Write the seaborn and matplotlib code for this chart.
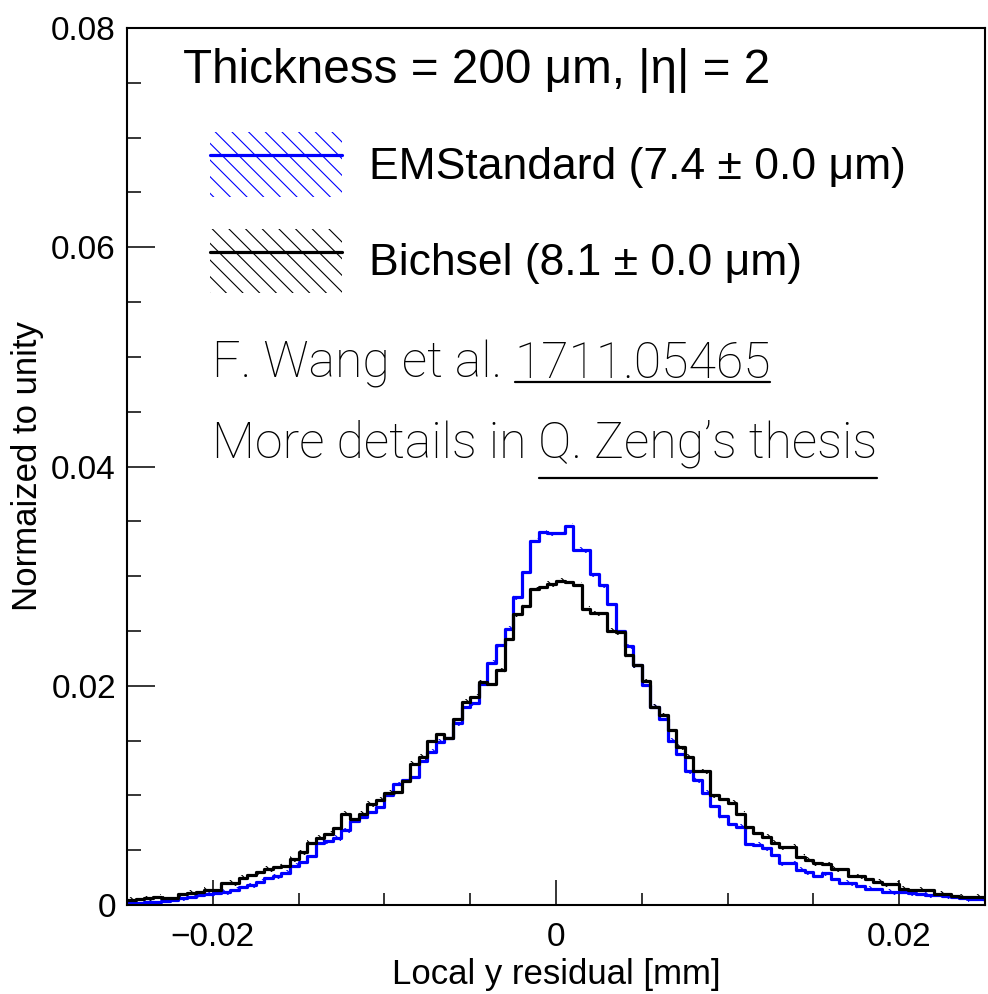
import numpy as np
import pandas as pd
import matplotlib
matplotlib.use("Agg")
import matplotlib.pyplot as plt
import matplotlib.legend_handler
import seaborn as sns
from matplotlib.patches import Patch
from matplotlib.lines import Line2D

# ---------------- data ----------------
bin_lo, bin_hi, n_bins = -0.025, 0.025, 100

em_standard = [
    0.00015, 0.0002, 0.0003, 0.0003, 0.0004, 0.0005, 0.0006, 0.0007, 0.0009, 0.0010,
    0.0011, 0.0012, 0.0014, 0.0016, 0.0018, 0.0021, 0.0025, 0.0026, 0.0029, 0.0036,
    0.0039, 0.0045, 0.0057, 0.0058, 0.0061, 0.0068, 0.0077, 0.0080, 0.0085, 0.0089,
    0.0100, 0.0110, 0.0114, 0.0117, 0.0131, 0.0140, 0.0149, 0.0152, 0.0166, 0.0181,
    0.0184, 0.0202, 0.0221, 0.0237, 0.0252, 0.0281, 0.0304, 0.0332, 0.0340, 0.0339,
    0.0339, 0.0346, 0.0324, 0.0324, 0.0302, 0.0292, 0.0275, 0.0250, 0.0236, 0.0219,
    0.0201, 0.0181, 0.0170, 0.0150, 0.0138, 0.0122, 0.0114, 0.0102, 0.0090, 0.0081,
    0.0074, 0.0071, 0.0056, 0.0055, 0.0052, 0.0046, 0.0038, 0.0038, 0.0032, 0.0030,
    0.0026, 0.0029, 0.0024, 0.0020, 0.0020, 0.0017, 0.0015, 0.0015, 0.0012, 0.0012,
    0.0012, 0.0011, 0.0010, 0.0009, 0.0009, 0.0008, 0.0007, 0.0006, 0.00055, 0.00055,
]

bichsel = [
    0.0005, 0.00058, 0.0006, 0.00076, 0.0006, 0.0006, 0.0010, 0.0011, 0.0012, 0.0014,
    0.0014, 0.0020, 0.0020, 0.0025, 0.0027, 0.0030, 0.0033, 0.0035, 0.0036, 0.0042,
    0.0048, 0.0057, 0.0061, 0.0065, 0.0070, 0.0083, 0.0078, 0.0083, 0.0092, 0.0096,
    0.0102, 0.0103, 0.0113, 0.0129, 0.0135, 0.0150, 0.0156, 0.0152, 0.0170, 0.0185,
    0.0190, 0.0203, 0.0202, 0.0214, 0.0243, 0.0265, 0.0273, 0.0288, 0.0290, 0.0293,
    0.0296, 0.0295, 0.0292, 0.0270, 0.0266, 0.0266, 0.0250, 0.0249, 0.0228, 0.0219,
    0.0204, 0.0181, 0.0173, 0.0160, 0.0144, 0.0135, 0.0122, 0.0122, 0.0100, 0.0097,
    0.0093, 0.0083, 0.0071, 0.0066, 0.0062, 0.0057, 0.0053, 0.0053, 0.0044, 0.0041,
    0.0038, 0.0037, 0.0033, 0.0033, 0.0026, 0.0026, 0.0024, 0.0021, 0.0019, 0.0019,
    0.0015, 0.0014, 0.0014, 0.0014, 0.0010, 0.0010, 0.00085, 0.00076, 0.00076, 0.00076,
]

series_names = ["EMStandard (7.4 \u00b1 0.0 \u03bcm)", "Bichsel (8.1 \u00b1 0.0 \u03bcm)"]
series_colors = ["#0000ff", "#000000"]
band_halfwidth = 0.00025

x_ticks = [-0.02, 0.0, 0.02]
x_ticklabels = ["\u22120.02", "0", "0.02"]
y_ticks = [0.0, 0.02, 0.04, 0.06, 0.08]
y_ticklabels = ["0", "0.02", "0.04", "0.06", "0.08"]

title_text = "Thickness = 200 \u03bcm, |\u03b7| = 2"
ref_prefix, ref_link = "F. Wang et al. ", "1711.05465"
more_prefix, more_link = "More details in ", "Q. Zeng\u2019s thesis"

# ---------------- style ----------------
sns.set_theme(style="white")
plt.rcParams["font.family"] = ["Liberation Sans", "DejaVu Sans"]
for k in ["text.color", "axes.labelcolor", "xtick.color", "ytick.color", "axes.edgecolor"]:
    plt.rcParams[k] = "black"
plt.rcParams["hatch.linewidth"] = 0.8
HATCH = "\\\\"

fig = plt.figure(figsize=(9.88, 9.94), dpi=100)
ax = fig.add_axes([127 / 988, 1 - 905 / 994, (985 - 127) / 988, (905 - 28) / 994])

edges = np.linspace(bin_lo, bin_hi, n_bins + 1)
centers = 0.5 * (edges[:-1] + edges[1:])

handles = []
for vals, col, name in zip([em_standard, bichsel], series_colors, series_names):
    vals = np.asarray(vals)
    lo = np.append(vals - band_halfwidth, vals[-1] - band_halfwidth)
    hi = np.append(vals + band_halfwidth, vals[-1] + band_halfwidth)
    ax.fill_between(edges, lo, hi, step="post", facecolor="none",
                    edgecolor=col, hatch=HATCH, linewidth=0)
    df = pd.DataFrame({"x": centers, "w": vals})
    sns.histplot(data=df, x="x", weights="w", bins=n_bins, binrange=(bin_lo, bin_hi),
                 element="step", fill=False, color=col, linewidth=2.3, ax=ax)
    handles.append((Patch(facecolor="none", edgecolor=col, hatch=HATCH, linewidth=0),
                    Line2D([], [], color=col, linewidth=2.3)))

ax.set_xlim(bin_lo, bin_hi)
ax.set_ylim(0, 0.08)
ax.set_xticks(x_ticks)
ax.set_xticklabels(x_ticklabels)
ax.set_yticks(y_ticks)
ax.set_yticklabels(y_ticklabels)
ax.xaxis.set_minor_locator(matplotlib.ticker.MultipleLocator(0.005))
ax.yaxis.set_minor_locator(matplotlib.ticker.MultipleLocator(0.005))
ax.tick_params(axis="both", which="both", direction="in", top=False, right=False,
               bottom=True, left=True, width=1.1, color="black", labelcolor="black")
ax.tick_params(axis="x", which="major", length=18, pad=12, labelsize=24)
ax.tick_params(axis="x", which="minor", length=9)
ax.tick_params(axis="y", which="major", length=20, pad=8, labelsize=24)
ax.tick_params(axis="y", which="minor", length=10)
for sp in ax.spines.values():
    sp.set_color("black")
    sp.set_linewidth(1.5)

ax.set_xlabel("Local y residual [mm]", fontsize=25, labelpad=4, color="black")
ax.set_ylabel("Normaized to unity", fontsize=25, labelpad=5, color="black")

ax.text(0.065, 0.937, title_text, transform=ax.transAxes, fontsize=34.3,
        va="baseline", ha="left", color="black")

leg = ax.legend(handles=handles, labels=series_names, loc="upper left",
                bbox_to_anchor=(0.097, 0.8815), frameon=False, fontsize=32,
                handlelength=2.97, handleheight=1.86, labelspacing=0.72,
                handletextpad=0.6, borderpad=0, borderaxespad=0,
                handler_map={tuple: matplotlib.legend_handler.HandlerTuple(ndivide=1)})
for t in leg.get_texts():
    t.set_color("black")

light = dict(fontfamily=["Roboto", "DejaVu Sans"], fontweight="light", fontsize=36,
             color="black")
AX_H = 877.0


def underlined_line(x, y, prefix, link, offset_px):
    t1 = ax.text(x, y, prefix, transform=ax.transAxes, va="baseline", ha="left", **light)
    t2 = ax.annotate(link, xy=(1, 0), xycoords=t1, va="bottom", ha="left",
                     annotation_clip=False, **light)
    fig.canvas.draw()
    renderer = fig.canvas.get_renderer()
    bb = t2.get_window_extent(renderer)
    inv = ax.transAxes.inverted()
    (x0, _), (x1, _) = inv.transform([[bb.x0, bb.y0], [bb.x1, bb.y0]])
    yl = y - offset_px / AX_H
    ax.add_line(Line2D([x0 + 1.0 / 858, x1 - 1.0 / 858], [yl, yl],
                       transform=ax.transAxes, color="black", linewidth=1.6,
                       clip_on=False))


underlined_line(0.099, 0.601, ref_prefix, ref_link, 4)
underlined_line(0.099, 0.5097, more_prefix, more_link, 20)

fig.savefig("out.png", dpi=100)
